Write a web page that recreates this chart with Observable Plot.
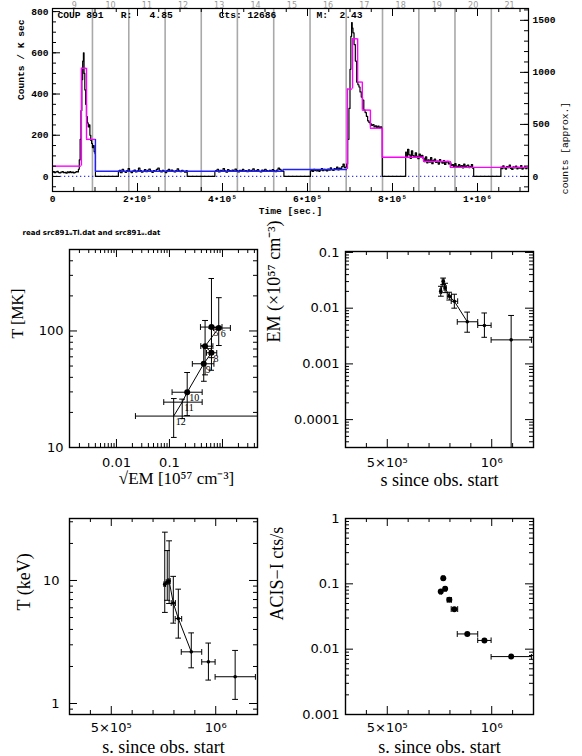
<!DOCTYPE html>
<html><head><meta charset="utf-8">
<script src="https://cdn.jsdelivr.net/npm/d3@7"></script>
<script src="https://cdn.jsdelivr.net/npm/@observablehq/plot@0.6"></script>
<style>
html,body{margin:0;padding:0;background:#fff;}
#wrap{position:relative;width:582px;height:756px;overflow:hidden;background:#fff;}
#wrap svg{position:absolute;}
</style></head><body><div id="wrap"></div>
<script>
// ================= DATA =================
// --- top panel: binned light curve, counts per ksec ---
const quiet1Start = 0, quiet1Step = 3000;
const quiet1 = [20,23,18,22,25,19,17,21,24,18,20,16,22,19,23,18,21,17,20,24,22];
const flare1Time = [62000,64000,66000,68000,70000,72000,73500,75000,77000,79000,81000,83000,85000,87000,89000,91000,93000,95000,97000,99000,101000];
const flare1Rate = [35,80,180,320,470,560,600,500,420,350,290,260,240,250,200,175,160,140,150,120,110];
const quiet2Start = 155000, quiet2Step = 3500;
const quiet2 = [22,30,18,35,25,20,28,38,24,19,26,31,22,27,40,29,21,25,33,23,30,36,26,20,28,24,34,41,27,22,30,25,19,28,35,24,31,26,22,29,37,27,23,30,25,21,28];
const quiet3Start = 382000, quiet3Step = 3500;
const quiet3 = [24,28,35,22,30,26,38,27,21,33,29,25,31,24,36,28,22,30,27,34,25,29,23,32,26,30,37,24,28,33,25,22,31,27,35,29,24,30,26,33,28,23,31,40,34,27,25];
const quiet4Start = 607000, quiet4Step = 3000;
const quiet4 = [26,31,24,35,29,27,33,25,30,38,28,34,31,27,36,30,42,33,29,38,35,45,32,40,37,48,60,43,46];
const flare2Time = [693000,696000,699000,701000,703000,704500,706000,708000,711000,714000,717000,720000,722000,725000,728000,731000,734000,737000,740000,743000,746000,749000,752000,755000,758000,761000,764000,767000,770000,773000,776000];
const flare2Rate = [60,180,330,520,680,746,720,697,640,560,458,445,434,410,385,370,322,310,292,270,262,255,248,252,240,246,238,244,236,241,232];
const quiet5Start = 831000, quiet5Step = 3000;
const quiet5 = [118,96,132,105,88,124,101,92,115,98,86,109,94,103,88,72,95,66,80,70,91,62,78,84,68,75,60,82,71,64,77,58,69,73,61,66,52,58,47,62,50,44,57,49,53,42,60,46,51,55,43,48,58,40];
const quiet6Start = 1055000, quiet6Step = 3000;
const quiet6 = [45,38,52,41,36,48,43,55,39,34,47,42,50,37,44,40,53,36,41,46,38,43];
const gapStart = [101000, 318000, 546000, 776000, 992000];
const gapEnd   = [155000, 382000, 607000, 831000, 1055000];

// Bayesian blocks
const magentaStart = [0, 68000, 80000, 694000, 706000, 718000, 729000, 748000, 776000, 873000, 936000];
const magentaEnd   = [68000, 80000, 101000, 706000, 718000, 729000, 748000, 776000, 873000, 936000, 1125000];
const magentaLevel = [50, 525, 180, 424, 668, 458, 322, 234, 93, 73, 44];
const blueStart = [101000, 543000];
const blueEnd   = [543000, 694000];
const blueLevel = [25, 34];
const blueDashed = [true, false];

// day boundaries (s) and day numbers
const dayLines = [94000,179500,265000,350000,435000,520500,606000,691000,776500,862000,947000,1032500];
const dayNumbers = [9,10,11,12,13,14,15,16,17,18,19,20,21];
const countsPerRate = 1.98;   // right axis: counts [approx.] per (counts/ksec)
const headerText = "COUP 891   R:   4.85        Cts: 12686       M:  2.43";

// --- time-resolved spectral fits of flare 2 (segments 5..12) ---
const segId   = [5, 6, 7, 8, 9, 10, 11, 12];
const inDecay = [true, true, true, true, true, true, false, false];
const segTime = [756000, 768000, 777000, 797000, 821000, 883000, 965000, 1093000];
const segTLo  = [752000, 763000, 772000, 787000, 806000, 835000, 933000, 997000];
const segTHi  = [760000, 772000, 782000, 807000, 837000, 933000, 997000, 1190000];
// EM (1e57 cm^-3)
const emVal = [0.0201, 0.0303, 0.0231, 0.0164, 0.0133, 0.0057, 0.0049, 0.0027];
const emLo  = [0.0164, 0.0265, 0.0190, 0.0140, 0.0100, 0.0037, 0.0030, 0.000001];
const emHi  = [0.0247, 0.0347, 0.0280, 0.0193, 0.0178, 0.0085, 0.0082, 0.0074];
// T (keV)
const kTVal = [9.3, 9.7, 9.9, 6.55, 4.9, 2.63, 2.18, 1.65];
const kTLo  = [5.5, 6.9, 6.5, 4.5, 3.4, 1.95, 1.55, 1.08];
const kTHi  = [24.7, 17.5, 21.0, 10.8, 8.5, 3.75, 3.1, 2.7];
// ACIS-I count rate
const rateVal = [0.076, 0.122, 0.084, 0.057, 0.041, 0.0171, 0.0136, 0.0077];
// T [MK] vs sqrt(EM) diagram
const sqEm   = [0.62, 0.85, 0.47, 0.62, 0.443, 0.216, 0.174, 0.12];
const sqEmLo = [0.384, 0.68, 0.39, 0.50, 0.27, 0.112, 0.078, 0.0228];
const sqEmHi = [0.98, 1.41, 0.66, 0.78, 0.69, 0.414, 0.414, 10];
const tMK    = [108, 106, 74, 65, 52.3, 29.8, 24.5, 18.6];
const tMKLo  = [59, 75, 42, 46, 37, 18.8, 17.7, 12.2];
const tMKHi  = [282, 193, 123, 105, 75, 44, 26, 26.3];

// ================= BUILD =================
const wrap = document.getElementById("wrap");
const SUP = {"0":"⁰","1":"¹","2":"²","3":"³","4":"⁴","5":"⁵","6":"⁶","7":"⁷","8":"⁸","9":"⁹","-":"⁻"};
const sup = s => String(s).split("").map(c => SUP[c] || c).join("");
function place(svg, left, top){ svg.style.position="absolute"; svg.style.left=left+"px"; svg.style.top=top+"px"; wrap.appendChild(svg); }

// light curve assembly
const lc = [];
const bins = (start, step, vals) => vals.forEach((v,i)=>lc.push({t:start+i*step, v}));
const pts = (ts, vs) => ts.forEach((t,i)=>lc.push({t, v:vs[i]}));
const gap = k => { lc.push({t:gapStart[k], v:0}); lc.push({t:gapEnd[k], v:0}); };
bins(quiet1Start, quiet1Step, quiet1); pts(flare1Time, flare1Rate); gap(0);
bins(quiet2Start, quiet2Step, quiet2); gap(1);
bins(quiet3Start, quiet3Step, quiet3); gap(2);
bins(quiet4Start, quiet4Step, quiet4); pts(flare2Time, flare2Rate); gap(3);
bins(quiet5Start, quiet5Step, quiet5); gap(4);
bins(quiet6Start, quiet6Step, quiet6);

const blocks = [
  ...magentaStart.map((s,i)=>({start:s, end:magentaEnd[i], level:magentaLevel[i], color:"#ff00ff", dash:false})),
  ...blueStart.map((s,i)=>({start:s, end:blueEnd[i], level:blueLevel[i], color:"#1f1fff", dash:blueDashed[i]}))
].sort((a,b)=>a.start-b.start);
const connectors = [];
for (let i=1;i<blocks.length;i++) if (blocks[i].start===blocks[i-1].end)
  connectors.push({t:blocks[i].start, from:blocks[i-1].level, to:blocks[i].level, color:blocks[i].color});

const dayLen = dayLines[1]-dayLines[0];
const dayLabelData = dayNumbers.map((n,i)=>({n, t: i<dayLines.length ? dayLines[i]-dayLen/2 : dayLines[dayLines.length-1]+dayLen/2}));

{
  const W=582, H=218, mL=52, mR=54, mT=8, mB=27;
  const iw=W-mL-mR, ih=H-mT-mB;
  const mono = "Liberation Mono, DejaVu Sans Mono, monospace";
  const xMajor = d3.range(0, 1.12e6+1, 2e5), xMinor = d3.range(0, 1.12e6, 5e4);
  const yMajor = d3.range(0, 801, 200), yMinor = d3.range(-50, 815, 50);
  const rMajor = [0,500,1000,1500], rMinor = d3.range(-100, 1601, 100);
  const xfmt = v => { if (v===0) return "0"; const e=Math.floor(Math.log10(v)+1e-9); return Math.round(v/10**e)+"•10"+sup(e); };
  const svg = Plot.plot({
    width:W, height:H, marginLeft:mL, marginRight:mR, marginTop:mT, marginBottom:mB,
    x:{domain:[0,1.12e6], label:null}, y:{domain:[-73,815], label:null},
    style:{background:"transparent", overflow:"visible", fontFamily:mono, fontSize:"9.6px", fontWeight:"bold", color:"black"},
    marks:[
      Plot.ruleX(dayLines, {stroke:"#a9a9a9", strokeWidth:1.6}),
      Plot.ruleY([0], {stroke:"#3a3aff", strokeWidth:1.2, strokeDasharray:"1.3,2.7"}),
      Plot.line(lc, {x:"t", y:"v", curve:"step", stroke:"black", strokeWidth:1.2, clip:true}),
      Plot.ruleY(blocks, {y:"level", x1:"start", x2:"end", stroke:"color", strokeWidth:1.4, strokeDasharray:d=>d.dash?"6,4":null, clip:true}),
      Plot.ruleX(connectors, {x:"t", y1:"from", y2:"to", stroke:"color", strokeWidth:1.4}),
      Plot.frame({stroke:"black", strokeWidth:1.2}),
      Plot.tickX(xMinor, {x:d=>d, insetTop:ih-4}),
      Plot.tickX(xMinor, {x:d=>d, insetBottom:ih-4}),
      Plot.tickX(xMajor, {x:d=>d, insetTop:ih-8}),
      Plot.tickX(xMajor, {x:d=>d, insetBottom:ih-8}),
      Plot.tickY(yMinor, {y:d=>d, insetRight:iw-4}),
      Plot.tickY(yMajor, {y:d=>d, insetRight:iw-8}),
      Plot.tickY(rMinor, {y:d=>d/countsPerRate, insetLeft:iw-4}),
      Plot.tickY(rMajor, {y:d=>d/countsPerRate, insetLeft:iw-8}),
      Plot.axisY(yMajor, {anchor:"left", tickSize:0, tickPadding:4, label:null, fontWeight:"bold"}),
      Plot.axisX(xMajor, {anchor:"bottom", tickSize:0, tickPadding:4, tickFormat:xfmt, label:null, fontWeight:"bold"}),
      Plot.text(rMajor, {y:d=>d/countsPerRate, text:d=>String(d), frameAnchor:"right", textAnchor:"start", dx:4, fontWeight:"bold"}),
      Plot.text(dayLabelData, {x:"t", text:d=>String(d.n), frameAnchor:"top", lineAnchor:"bottom", dy:-1, fill:"#9a9a9a", fontSize:8, fontWeight:"normal", fontFamily:"DejaVu Sans"}),
      Plot.text([headerText], {frameAnchor:"top-left", textAnchor:"start", lineAnchor:"top", dx:5, dy:3, fontWeight:"bold"}),
      Plot.text(["Time [sec.]"], {frameAnchor:"bottom", lineAnchor:"middle", dy:19, fontWeight:"bold"}),
      Plot.text(["Counts / K sec"], {frameAnchor:"left", rotate:-90, dx:-32, fontWeight:"bold"}),
      Plot.text(["counts [approx.]"], {frameAnchor:"right", rotate:-90, dx:36, dy:2, fontWeight:"normal"})
    ]
  });
  place(svg, 0, 0);
}

// ---------- small panels ----------
const sans = "DejaVu Sans, sans-serif", serif = "Liberation Serif, Times New Roman, serif";
function logTicks(lo, hi){ const maj=[], min=[];
  for (let e=Math.floor(Math.log10(lo))-1; e<=Math.ceil(Math.log10(hi)); e++)
    for (let m=1;m<=9;m++){ const v=+(m*10**e).toPrecision(6); if (v>=lo*0.999 && v<=hi*1.001) (m===1?maj:min).push(v); }
  return {maj, min}; }
const timeMajor = [5e5, 1e6], timeMinor = [4e5,6e5,7e5,8e5,9e5,1.1e6];
const timeFmt = v => { const e=Math.floor(Math.log10(v)+1e-9), m=Math.round(v/10**e); return (m===1?"":m+"×")+"10"+sup(e); };

function panel(o){
  const iw=o.W-o.mL-o.mR, ih=o.H-o.mT-o.mB;
  const svg = Plot.plot({
    width:o.W, height:o.H, marginLeft:o.mL, marginRight:o.mR, marginTop:o.mT, marginBottom:o.mB,
    x:{...o.x, label:null}, y:{...o.y, label:null},
    style:{background:"transparent", overflow:"visible", fontFamily:sans, fontSize:"13px", color:"black"},
    marks:[
      ...o.marks,
      Plot.frame({stroke:"black", strokeWidth:1.4}),
      Plot.tickX(o.xMinor, {x:d=>d, insetTop:ih-4}),
      Plot.tickX(o.xMinor, {x:d=>d, insetBottom:ih-4}),
      Plot.tickX(o.xMajor, {x:d=>d, insetTop:ih-8}),
      Plot.tickX(o.xMajor, {x:d=>d, insetBottom:ih-8}),
      Plot.tickY(o.yMinor, {y:d=>d, insetRight:iw-4}),
      Plot.tickY(o.yMinor, {y:d=>d, insetLeft:iw-4}),
      Plot.tickY(o.yMajor, {y:d=>d, insetRight:iw-8}),
      Plot.tickY(o.yMajor, {y:d=>d, insetLeft:iw-8}),
      Plot.axisX(o.xLabels, {anchor:"bottom", tickSize:0, tickPadding:o.xPad, tickFormat:o.xFmt, label:null}),
      Plot.axisY(o.yLabels, {anchor:"left", tickSize:0, tickPadding:o.yPad, tickFormat:d=>String(d), label:null}),
      Plot.text([o.xTitle], {frameAnchor:"bottom", lineAnchor:"middle", dx:o.xTdx, dy:o.xTdy, fontFamily:serif, fontSize:o.xTsize||18}),
      Plot.text([o.yTitle], {frameAnchor:"left", rotate:-90, lineAnchor:"middle", dx:o.yTdx, dy:o.yTdy, fontFamily:serif, fontSize:o.yTsize||18}),
      ...(o.extra||[])
    ]
  });
  place(svg, o.left, o.top);
}

const segs = segId.map((id,i)=>({id, decay:inDecay[i], t:segTime[i], tlo:segTLo[i], thi:segTHi[i],
  em:emVal[i], emlo:emLo[i], emhi:emHi[i], kt:kTVal[i], ktlo:kTLo[i], kthi:kTHi[i], rate:rateVal[i],
  sq:sqEm[i], sqlo:sqEmLo[i], sqhi:sqEmHi[i], tmk:tMK[i], tmklo:tMKLo[i], tmkhi:tMKHi[i]}));
const decay = segs.filter(d=>d.decay);
const capped = {markerStart:"tick", markerEnd:"tick", strokeWidth:1, clip:true};

// middle-left: T [MK] vs sqrt(EM)
{
  const xd=[0.0013, 4.58], yd=[10,500]; const xl=logTicks(...xd), yl=logTicks(...yd);
  panel({left:0, top:225, W:291, H:275, mL:69, mR:34, mT:24, mB:53,
    x:{type:"log", domain:xd}, y:{type:"log", domain:yd},
    xMajor:xl.maj, xMinor:xl.min, yMajor:yl.maj, yMinor:yl.min,
    xLabels:[0.01, 0.1], xFmt:d=>String(d), yLabels:[10,50,100,500], xPad:10, yPad:6,
    xTitle:"√EM [10⁵⁷ cm⁻³]", xTdx:13, xTdy:31, xTsize:17, yTitle:"T [MK]", yTdx:-52, yTdy:-10, yTsize:16,
    marks:[
      Plot.link(segs, {x1:"sqlo", x2:"sqhi", y1:"tmk", y2:"tmk", ...capped}),
      Plot.link(segs, {x1:"sq", x2:"sq", y1:"tmklo", y2:"tmkhi", ...capped}),
      Plot.line(segs, {x:"sq", y:"tmk", strokeWidth:1, clip:true}),
      Plot.dot(decay, {x:"sq", y:"tmk", r:3, fill:"black"}),
      Plot.text(segs, {x:"sq", y:"tmk", text:d=>String(d.id), textAnchor:"start", dx:2, dy:6, fontSize:10, fontFamily:serif})
    ],
    extra:[Plot.text(["read src891ᵤTl.dat and src891ᵤ.dat"], {frameAnchor:"top-left", textAnchor:"start", lineAnchor:"middle", dx:-47, dy:-17, fontSize:7, fontWeight:"bold", fontFamily:"DejaVu Sans"})]
  });
}
// middle-right: EM vs time
{
  const yd=[3.16e-5, 0.104]; const yl=logTicks(...yd);
  panel({left:260, top:225, W:322, H:275, mL:85, mR:49, mT:26, mB:53,
    x:{domain:[3e5,1.2e6]}, y:{type:"log", domain:yd},
    xMajor:timeMajor, xMinor:timeMinor, yMajor:yl.maj, yMinor:yl.min,
    xLabels:timeMajor, xFmt:timeFmt, yLabels:[0.0001,0.001,0.01,0.1], xPad:10, yPad:6,
    xTitle:"s since obs. start", xTdx:0, xTdy:33, yTitle:"EM (×10⁵⁷ cm⁻³)", yTdx:-71, yTdy:-7,
    marks:[
      Plot.link(segs, {x1:"tlo", x2:"thi", y1:"em", y2:"em", ...capped}),
      Plot.link(segs, {x1:"t", x2:"t", y1:"emlo", y2:"emhi", ...capped}),
      Plot.line(decay, {x:"t", y:"em", strokeWidth:1}),
      Plot.dot(segs, {x:"t", y:"em", r:1.8, fill:"black"})
    ]
  });
}
// bottom-left: T (keV) vs time
{
  const yd=[0.814, 31.9]; const yl=logTicks(...yd);
  panel({left:0, top:500, W:291, H:256, mL:69, mR:34, mT:18, mB:42,
    x:{domain:[3e5,1.2e6]}, y:{type:"log", domain:yd},
    xMajor:timeMajor, xMinor:timeMinor, yMajor:yl.maj, yMinor:yl.min,
    xLabels:timeMajor, xFmt:timeFmt, yLabels:[1,10], xPad:8, yPad:10,
    xTitle:"s. since obs. start", xTdx:0, xTdy:33, yTitle:"T (keV)", yTdx:-45, yTdy:-6,
    marks:[
      Plot.link(segs, {x1:"tlo", x2:"thi", y1:"kt", y2:"kt", ...capped}),
      Plot.link(segs, {x1:"t", x2:"t", y1:"ktlo", y2:"kthi", ...capped}),
      Plot.line(decay, {x:"t", y:"kt", strokeWidth:1}),
      Plot.dot(segs, {x:"t", y:"kt", r:1.8, fill:"black"})
    ]
  });
}
// bottom-right: ACIS-I rate vs time
{
  const yd=[0.001, 1]; const yl=logTicks(...yd);
  panel({left:260, top:500, W:322, H:256, mL:85, mR:49, mT:18, mB:42,
    x:{domain:[3e5,1.2e6]}, y:{type:"log", domain:yd},
    xMajor:timeMajor, xMinor:timeMinor, yMajor:yl.maj, yMinor:yl.min,
    xLabels:timeMajor, xFmt:timeFmt, yLabels:[0.001,0.01,0.1,1], xPad:8, yPad:6,
    xTitle:"s. since obs. start", xTdx:0, xTdy:33, yTitle:"ACIS−I cts/s", yTdx:-68, yTdy:4,
    marks:[
      Plot.link(segs, {x1:"tlo", x2:"thi", y1:"rate", y2:"rate", ...capped}),
      Plot.dot(segs, {x:"t", y:"rate", r:3, fill:"black"})
    ]
  });
}
</script></body></html>
